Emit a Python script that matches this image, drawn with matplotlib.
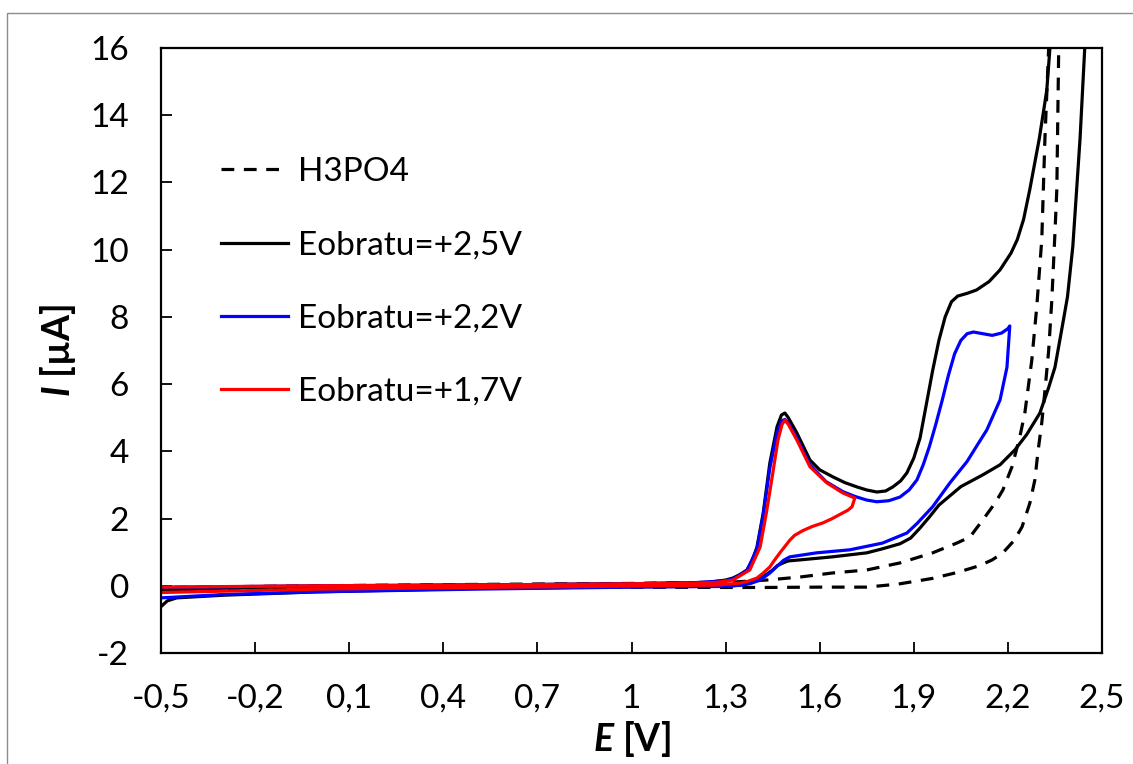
import matplotlib
matplotlib.use("Agg")
import matplotlib.pyplot as plt
from matplotlib.patches import Rectangle
from matplotlib.ticker import FixedLocator, FuncFormatter

# ---------------- data ----------------
# H3PO4 blank: forward (outer) branch, then reverse (inner) branch
h3po4_E = [-0.5, 0.0, 0.5, 1.0, 1.3, 1.43, 1.6, 1.75, 1.85, 1.96, 2.04, 2.11, 2.15, 2.184,
           2.22, 2.245, 2.27, 2.286, 2.296, 2.308, 2.318, 2.33, 2.34, 2.35, 2.356, 2.362, 2.366,
           2.332, 2.33, 2.318, 2.308, 2.292, 2.276, 2.254, 2.238, 2.213, 2.184, 2.159, 2.12,
           2.079, 2.037, 1.96, 1.856, 1.75, 1.64, 1.537, 1.43, 1.323, 1.0, 0.5, 0.0, -0.5]
h3po4_I = [-0.12, -0.07, -0.04, -0.04, -0.05, -0.05, -0.04, -0.04, 0.05, 0.22, 0.40, 0.60, 0.77, 0.98,
           1.35, 1.75, 2.46, 3.15, 4.0, 4.85, 5.8, 7.0, 8.5, 10.5, 11.8, 16.0, 17.5,
           17.5, 16.0, 13.3, 10.3, 8.3, 6.7, 5.14, 4.43, 3.54, 2.85, 2.46, 1.96,
           1.45, 1.27, 0.98, 0.68, 0.47, 0.38, 0.26, 0.17, 0.11, 0.07, 0.04, 0.0, -0.05]

# E reverse = +2.5 V
e25_E = [-0.5, -0.2, 0.2, 0.6, 1.0, 1.2, 1.25, 1.3, 1.323, 1.345, 1.368, 1.385, 1.40, 1.42,
         1.441, 1.464, 1.478, 1.489, 1.50, 1.527, 1.569, 1.60, 1.642, 1.68, 1.719, 1.75, 1.782,
         1.81, 1.833, 1.858, 1.878, 1.90, 1.92, 1.94, 1.96, 1.98, 2.0, 2.02, 2.04, 2.07,
         2.10, 2.14, 2.175, 2.21, 2.23, 2.25, 2.27, 2.29, 2.30, 2.315, 2.324, 2.334, 2.338,
         2.452, 2.445, 2.43, 2.407, 2.39, 2.375, 2.35, 2.33, 2.302, 2.26, 2.222, 2.175, 2.12,
         2.05, 1.98, 1.95, 1.92, 1.89, 1.856, 1.80, 1.75, 1.64, 1.537, 1.50, 1.483, 1.465,
         1.45, 1.425, 1.40, 1.37, 1.346, 1.3, 1.0, 0.5, 0.0, -0.3, -0.45, -0.48, -0.5]
e25_I = [-0.12, -0.05, 0.0, 0.03, 0.06, 0.09, 0.11, 0.17, 0.23, 0.33, 0.47, 0.75, 1.15, 2.17,
         3.65, 4.73, 5.08, 5.14, 5.0, 4.55, 3.74, 3.45, 3.24, 3.07, 2.94, 2.85, 2.79,
         2.82, 2.94, 3.12, 3.36, 3.8, 4.4, 5.4, 6.4, 7.3, 8.0, 8.45, 8.62, 8.7,
         8.8, 9.05, 9.4, 9.9, 10.3, 10.9, 11.8, 12.8, 13.3, 14.2, 14.75, 16.0, 16.8,
         16.8, 16.0, 13.3, 10.1, 8.6, 7.8, 6.5, 5.9, 5.14, 4.5, 4.04, 3.6, 3.3,
         2.95, 2.4, 2.05, 1.72, 1.42, 1.25, 1.1, 0.98, 0.86, 0.77, 0.74, 0.68, 0.6,
         0.47, 0.3, 0.17, 0.07, 0.02, -0.01, -0.03, -0.08, -0.18, -0.28, -0.36, -0.45, -0.62]

# E reverse = +2.2 V
e22_E = [-0.5, 0.0, 0.6, 1.0, 1.2, 1.3, 1.323, 1.368, 1.40, 1.42, 1.441, 1.464, 1.478, 1.489,
         1.50, 1.527, 1.569, 1.62, 1.674, 1.712, 1.75, 1.782, 1.82, 1.856, 1.885, 1.91, 1.93,
         1.95, 1.97, 1.99, 2.01, 2.03, 2.05, 2.07, 2.09, 2.12, 2.15, 2.18, 2.2, 2.206,
         2.197, 2.175, 2.133, 2.10, 2.07, 2.015, 1.96, 1.91, 1.878, 1.80, 1.696, 1.59, 1.505,
         1.485, 1.464, 1.44, 1.41, 1.38, 1.355, 1.3, 1.0, 0.5, 0.0, -0.3, -0.5]
e22_I = [-0.05, 0.0, 0.03, 0.06, 0.09, 0.15, 0.2, 0.45, 1.1, 2.1, 3.5, 4.55, 4.9, 4.95,
         4.85, 4.4, 3.6, 3.1, 2.8, 2.66, 2.55, 2.5, 2.53, 2.64, 2.85, 3.15, 3.6,
         4.15, 4.8, 5.5, 6.25, 6.9, 7.3, 7.5, 7.55, 7.5, 7.45, 7.52, 7.65, 7.73,
         6.5, 5.53, 4.64, 4.15, 3.7, 3.06, 2.35, 1.85, 1.57, 1.27, 1.07, 0.98, 0.86,
         0.76, 0.58, 0.37, 0.17, 0.07, 0.02, -0.02, -0.04, -0.1, -0.18, -0.26, -0.36]

# E reverse = +1.7 V
e17_E = [-0.5, 0.0, 0.6, 1.0, 1.2, 1.27, 1.323, 1.377, 1.41, 1.43, 1.447, 1.467, 1.48, 1.489,
         1.50, 1.527, 1.569, 1.623, 1.674, 1.712,
         1.703, 1.69, 1.674, 1.64, 1.61, 1.575, 1.546, 1.52, 1.505, 1.49, 1.473, 1.455, 1.441,
         1.42, 1.40, 1.37, 1.346, 1.27, 1.0, 0.5, 0.0, -0.5]
e17_I = [-0.04, 0.0, 0.03, 0.06, 0.08, 0.1, 0.17, 0.47, 1.15, 2.17, 3.15, 4.34, 4.8, 4.93,
         4.8, 4.34, 3.54, 3.06, 2.76, 2.61,
         2.35, 2.25, 2.17, 2.0, 1.87, 1.76, 1.64, 1.5, 1.36, 1.18, 0.98, 0.75, 0.56,
         0.38, 0.23, 0.13, 0.08, 0.02, -0.01, -0.05, -0.1, -0.2]

series_labels = ["H3PO4", "Eobratu=+2,5V", "Eobratu=+2,2V", "Eobratu=+1,7V"]
x_ticks = [-0.5, -0.2, 0.1, 0.4, 0.7, 1.0, 1.3, 1.6, 1.9, 2.2, 2.5]
y_ticks = [-2, 0, 2, 4, 6, 8, 10, 12, 14, 16]

# ---------------- styling ----------------
FONT = "Lato"
plt.rcParams["font.family"] = [FONT, "DejaVu Sans"]
plt.rcParams["mathtext.fontset"] = "custom"
plt.rcParams["mathtext.it"] = FONT + ":italic:bold"
plt.rcParams["mathtext.rm"] = FONT + ":bold"

W, H = 1133, 764
fig = plt.figure(figsize=(W / 100, H / 100), dpi=100)
fig.patch.set_facecolor("white")

# light grey chart-area outline (cut off at right and bottom)
fig.patches.append(Rectangle((7 / W, -0.1), 1.2, (H - 13) / H + 0.1,
                             transform=fig.transFigure, fill=False,
                             edgecolor="#8c8c8c", linewidth=1.0))

ax = fig.add_axes([161 / W, (H - 653) / H, (1102 - 161) / W, (653 - 48) / H])

lw = 2.3
dash = (4, 3)
ax.plot(h3po4_E, h3po4_I, color="black", lw=lw, linestyle=(0, dash), label=series_labels[0],
        dash_capstyle="butt")
ax.plot(e25_E, e25_I, color="black", lw=lw, label=series_labels[1], solid_joinstyle="round")
ax.plot(e22_E, e22_I, color="#0000ff", lw=lw, label=series_labels[2], solid_joinstyle="round")
ax.plot(e17_E, e17_I, color="#ff0000", lw=lw, label=series_labels[3], solid_joinstyle="round")

ax.set_xlim(-0.5, 2.5)
ax.set_ylim(-2, 16)

ax.xaxis.set_major_locator(FixedLocator(x_ticks))
ax.yaxis.set_major_locator(FixedLocator(y_ticks))
fmt_x = FuncFormatter(lambda v, p: ("%g" % round(v, 1)).replace(".", ","))
fmt_y = FuncFormatter(lambda v, p: "%d" % round(v))
ax.xaxis.set_major_formatter(fmt_x)
ax.yaxis.set_major_formatter(fmt_y)

for s in ax.spines.values():
    s.set_linewidth(1.6)
    s.set_color("black")

ax.tick_params(axis="both", direction="in", length=8, width=1.3, labelsize=24,
               colors="black")
ax.tick_params(axis="x", pad=22)
ax.tick_params(axis="y", pad=23)

ax.set_xlabel(r"$E$ [V]", fontsize=27, fontweight="bold", labelpad=4)
ax.set_ylabel(r"$I$ [µA]", fontsize=27, fontweight="bold", labelpad=9)

leg = ax.legend(loc="upper left", bbox_to_anchor=(221 / W, (H - 157) / H),
                bbox_transform=fig.transFigure, frameon=False, fontsize=24,
                handlelength=2.0, handletextpad=0.3, labelspacing=1.3,
                borderpad=0, borderaxespad=0)
for lh in leg.get_lines():
    lh.set_linewidth(2.3)

fig.savefig("out.png", dpi=100, facecolor="white")
